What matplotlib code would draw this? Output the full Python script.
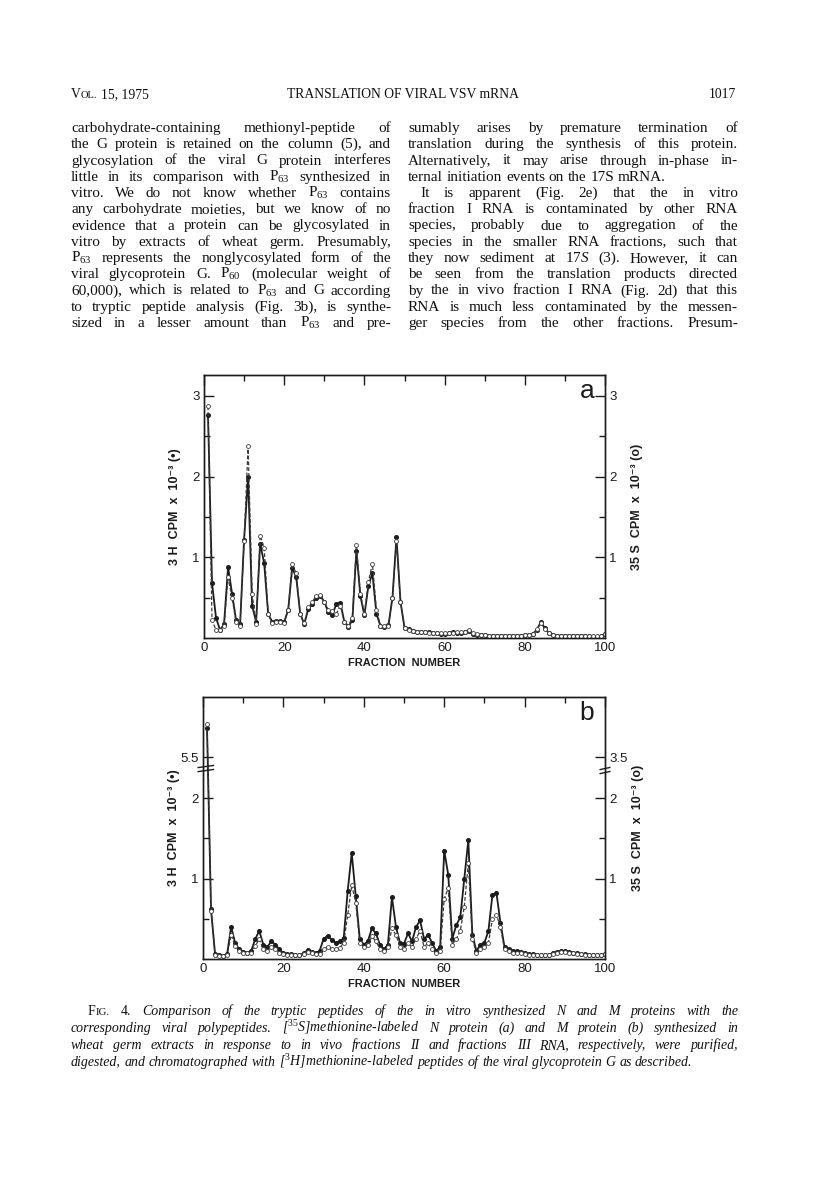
import numpy as np
import matplotlib
matplotlib.use('Agg')
import matplotlib.pyplot as plt

plt.rcParams['mathtext.fontset'] = 'custom'
plt.rcParams['mathtext.rm'] = 'Liberation Serif'
plt.rcParams['mathtext.it'] = 'Liberation Serif:italic'

W, H = 816, 1196
INK = '#1c1c1c'

# ---- data (fraction number 1..100) ----
fraction = np.arange(1, 101)

# panel a: 3H (filled) and 35S (open), CPM x 10^-3
a_h3 = [2.77, 0.68, 0.25, 0.10, 0.17, 0.88, 0.55, 0.22, 0.17, 1.22,
        2.00, 0.40, 0.20, 1.17, 0.93, 0.30, 0.20, 0.21, 0.21, 0.20,
        0.35, 0.87, 0.75, 0.30, 0.17, 0.36, 0.42, 0.50, 0.52, 0.45,
        0.32, 0.29, 0.42, 0.44, 0.20, 0.14, 0.22, 1.08, 0.52, 0.28,
        0.65, 0.80, 0.30, 0.15, 0.14, 0.16, 0.50, 1.25, 0.45, 0.13,
        0.11, 0.09, 0.08, 0.08, 0.07, 0.07, 0.06, 0.06, 0.05, 0.05,
        0.06, 0.07, 0.06, 0.06, 0.07, 0.09, 0.05, 0.04, 0.04, 0.04,
        0.03, 0.03, 0.03, 0.03, 0.03, 0.03, 0.03, 0.03, 0.03, 0.04,
        0.04, 0.05, 0.10, 0.20, 0.12, 0.06, 0.04, 0.03, 0.03, 0.03,
        0.03, 0.03, 0.03, 0.03, 0.03, 0.02, 0.01, 0.01, 0.02, 0.05]
a_s35 = [2.87, 0.22, 0.10, 0.10, 0.15, 0.75, 0.50, 0.20, 0.15, 1.20,
         2.38, 0.55, 0.17, 1.27, 1.12, 0.30, 0.18, 0.20, 0.20, 0.19,
         0.35, 0.92, 0.80, 0.30, 0.18, 0.38, 0.45, 0.52, 0.53, 0.45,
         0.35, 0.33, 0.30, 0.40, 0.20, 0.15, 0.25, 1.15, 0.55, 0.30,
         0.70, 0.92, 0.35, 0.15, 0.15, 0.15, 0.50, 1.20, 0.45, 0.12,
         0.10, 0.09, 0.08, 0.07, 0.07, 0.06, 0.06, 0.06, 0.06, 0.06,
         0.06, 0.06, 0.07, 0.07, 0.08, 0.10, 0.06, 0.05, 0.04, 0.04,
         0.03, 0.03, 0.03, 0.03, 0.03, 0.03, 0.03, 0.03, 0.03, 0.04,
         0.04, 0.05, 0.11, 0.19, 0.11, 0.06, 0.04, 0.03, 0.03, 0.03,
         0.03, 0.03, 0.03, 0.03, 0.03, 0.02, 0.02, 0.02, 0.03, 0.05]

# panel b (axis broken above 2, first fraction near 6)
b_h3 = [5.95, 0.62, 0.06, 0.05, 0.04, 0.06, 0.40, 0.20, 0.12, 0.09,
        0.08, 0.10, 0.25, 0.35, 0.18, 0.15, 0.22, 0.18, 0.12, 0.07,
        0.06, 0.06, 0.05, 0.05, 0.07, 0.11, 0.09, 0.07, 0.10, 0.25,
        0.29, 0.24, 0.20, 0.22, 0.26, 0.85, 1.32, 0.78, 0.25, 0.18,
        0.22, 0.38, 0.32, 0.18, 0.12, 0.18, 0.77, 0.40, 0.20, 0.19,
        0.32, 0.22, 0.40, 0.48, 0.25, 0.30, 0.20, 0.10, 0.15, 1.35,
        1.05, 0.25, 0.42, 0.52, 1.00, 1.48, 0.30, 0.10, 0.18, 0.20,
        0.35, 0.80, 0.82, 0.45, 0.15, 0.12, 0.10, 0.10, 0.09, 0.08,
        0.06, 0.06, 0.05, 0.05, 0.05, 0.05, 0.07, 0.09, 0.10, 0.10,
        0.09, 0.08, 0.07, 0.06, 0.06, 0.05, 0.05, 0.05, 0.05, 0.06]
b_s35 = [6.02, 0.60, 0.05, 0.04, 0.04, 0.05, 0.30, 0.16, 0.10, 0.08,
         0.07, 0.08, 0.16, 0.25, 0.12, 0.10, 0.15, 0.12, 0.08, 0.06,
         0.05, 0.05, 0.05, 0.05, 0.06, 0.09, 0.08, 0.06, 0.06, 0.12,
         0.15, 0.13, 0.12, 0.14, 0.20, 0.55, 0.92, 0.70, 0.20, 0.15,
         0.17, 0.28, 0.22, 0.13, 0.10, 0.15, 0.38, 0.30, 0.15, 0.12,
         0.20, 0.15, 0.25, 0.35, 0.15, 0.20, 0.12, 0.07, 0.10, 0.75,
         0.88, 0.18, 0.25, 0.35, 0.65, 1.20, 0.25, 0.08, 0.12, 0.15,
         0.20, 0.50, 0.55, 0.40, 0.12, 0.10, 0.08, 0.07, 0.07, 0.06,
         0.05, 0.05, 0.05, 0.05, 0.05, 0.05, 0.06, 0.08, 0.09, 0.09,
         0.08, 0.07, 0.06, 0.06, 0.05, 0.05, 0.05, 0.05, 0.05, 0.06]

x_ticks = [0, 20, 40, 60, 80, 100]
a_yticks, a_ylabels_left, a_ylabels_right = [1, 2, 3], ['1', '2', '3'], ['1', '2', '3']
b_yticks, b_ylabels_left, b_ylabels_right = [1, 2, 5.5], ['1', '2', '5.5'], ['1', '2', '3.5']

# ---- page text ----
header = ("15, 1975", "TRANSLATION OF VIRAL VSV mRNA", "1017")
P63 = r"$\mathrm{P}_{63}$"
P60 = r"$\mathrm{P}_{60}$"
left_col = [
    "carbohydrate-containing methionyl-peptide of",
    "the G protein is retained on the column (5), and",
    "glycosylation of the viral G protein interferes",
    f"little in its comparison with {P63} synthesized in",
    f"vitro. We do not know whether {P63} contains",
    "any carbohydrate moieties, but we know of no",
    "evidence that a protein can be glycosylated in",
    "vitro by extracts of wheat germ. Presumably,",
    f"{P63} represents the nonglycosylated form of the",
    f"viral glycoprotein G. {P60} (molecular weight of",
    f"60,000), which is related to {P63} and G according",
    "to tryptic peptide analysis (Fig. 3b), is synthe-",
    f"sized in a lesser amount than {P63} and pre-",
]
right_col = [
    "sumably arises by premature termination of",
    "translation during the synthesis of this protein.",
    "Alternatively, it may arise through in-phase in-",
    "ternal initiation events on the 17S mRNA.",
    "It is apparent (Fig. 2e) that the in vitro",
    "fraction I RNA is contaminated by other RNA",
    "species, probably due to aggregation of the",
    "species in the smaller RNA fractions, such that",
    r"they now sediment at 17$S$ (3). However, it can",
    "be seen from the translation products directed",
    "by the in vivo fraction I RNA (Fig. 2d) that this",
    "RNA is much less contaminated by the messen-",
    "ger species from the other fractions. Presum-",
]
caption = [
    "Comparison of the tryptic peptides of the in vitro synthesized N and M proteins with the",
    r"corresponding viral polypeptides. [$^{35}$S]methionine-labeled N protein (a) and M protein (b) synthesized in",
    "wheat germ extracts in response to in vivo fractions II and fractions III RNA, respectively, were purified,",
    r"digested, and chromatographed with [$^{3}$H]methionine-labeled peptides of the viral glycoprotein G as described.",
]

fig = plt.figure(figsize=(W / 100, H / 100), dpi=100)
renderer = fig.canvas.get_renderer()


def put_words(words, x0, x1, y, size, style='normal', justify=True, min_gap=2.2):
    # words: str, or list of (text, size, style) pieces set without a gap
    def build(scale):
        groups = []
        for w in words:
            pieces = [(w, size, style)] if isinstance(w, str) else w
            ts = [fig.text(0, 1 - y / H, p, fontsize=s * scale, style=st,
                           family='Liberation Serif', va='baseline', ha='left',
                           color='#111111') for p, s, st in pieces]
            ws = [t.get_window_extent(renderer).width for t in ts]
            groups.append((ts, ws))
        return groups

    scale = 1.0
    while True:
        groups = build(scale)
        total = sum(sum(ws) for _, ws in groups)
        n = max(len(groups) - 1, 1)
        gap = (x1 - x0 - total) / n
        if not justify or gap >= min_gap or scale < 0.88:
            break
        for ts, _ in groups:
            for t in ts:
                t.remove()
        scale *= 0.98
    if not justify:
        gap = size * 100 / 72 * 0.25
    x = x0
    for ts, ws in groups:
        for t, w in zip(ts, ws):
            t.set_x(x / W)
            x += w
        x += gap


BODY = 11.0
CAP = 10.0

# running header
put_words([[("V", 9.8, 'normal'), ("OL.", 7.6, 'normal')], header[0]], 71, 150, 98, 9.8,
          justify=False)
fig.text(403 / W, 1 - 98 / H, header[1], fontsize=9.8, family='Liberation Serif',
         va='baseline', ha='center', color='#111111')
fig.text(736 / W, 1 - 98 / H, header[2], fontsize=9.8, family='Liberation Serif',
         va='baseline', ha='right', color='#111111')

# two text columns
for i, line in enumerate(left_col):
    put_words(line.split(' '), 71, 391, 132 + 16.25 * i, BODY)
for i, line in enumerate(right_col):
    x0 = 420 if i == 4 else 408
    put_words(line.split(' '), x0, 738, 132 + 16.25 * i, BODY, justify=(i != 3))

# caption, "FIG. 4." upright in small caps, rest italic
cap_y = [1015, 1032, 1049, 1066]
for i, line in enumerate(caption):
    words = line.split(' ')
    if i == 0:
        words = [[("F", CAP, 'normal'), ("IG.", CAP * 0.78, 'normal')],
                 [("4.", CAP, 'normal')]] + words
        put_words(words, 88, 738, cap_y[i], CAP, style='italic')
    else:
        put_words(words, 71, 738, cap_y[i], CAP, style='italic', justify=(i != 3))


# ---- axis break for panel b ----
def fwd(y):
    y = np.asarray(y, dtype=float)
    return np.where(y <= 2.4, y,
                    np.where(y < 5.5, 2.4 + (y - 2.4) * 0.11 / 3.1,
                             2.51 + (y - 5.5) * 0.8))


def inv(p):
    p = np.asarray(p, dtype=float)
    return np.where(p <= 2.4, p,
                    np.where(p < 2.51, 2.4 + (p - 2.4) * 3.1 / 0.11,
                             5.5 + (p - 2.51) / 0.8))


def make_panel(box, h3, s35, yticks, lab_left, lab_right, letter, broken):
    l, t, r, b = box
    ax = fig.add_axes([l / W, 1 - b / H, (r - l) / W, (b - t) / H])
    ax2 = ax.twinx()
    for a in (ax, ax2):
        if broken:
            a.set_yscale('function', functions=(fwd, inv))
            a.set_ylim(0, inv(3.26))
        else:
            a.set_ylim(0, 3.26)
        for s in a.spines.values():
            s.set_linewidth(1.0)
            s.set_color(INK)
    ax.set_xlim(0, 100)

    ax.plot(fraction, h3, '-', color=INK, lw=1.3, marker='o', ms=2.6,
            mfc=INK, mec=INK, zorder=3)
    ax.plot(fraction, s35, '--', color='#3a3a3a', lw=0.9, dashes=(3, 1.6),
            marker='o', ms=2.8, mfc='white', mec='#3a3a3a', mew=0.6, zorder=4)

    ax.set_xticks(x_ticks)
    ax.set_xticks(np.arange(10, 100, 20), minor=True)
    ax.tick_params(axis='x', which='both', direction='in', bottom=False, top=True,
                   labelbottom=True, labelsize=9.5, pad=3, colors=INK)
    ax.tick_params(axis='x', which='major', length=7, width=1)
    ax.tick_params(axis='x', which='minor', length=4, width=1)
    for tl in ax.get_xticklabels():
        tl.set_family('Liberation Sans')

    minor = [0.5, 1.5] if broken else [0.5, 1.5, 2.5]
    for a, labs in ((ax, lab_left), (ax2, lab_right)):
        a.set_yticks(yticks)
        a.set_yticklabels(labs, family='Liberation Sans')
        a.set_yticks(minor, minor=True)
        a.yaxis.set_minor_formatter(plt.NullFormatter())
        a.tick_params(axis='y', which='both', direction='in', labelsize=9.5,
                      pad=3, colors=INK)
        a.tick_params(axis='y', which='major', length=7, width=1)
        a.tick_params(axis='y', which='minor', length=4, width=1)

    ax.set_xlabel('FRACTION  NUMBER', fontsize=8, fontweight='bold',
                  family='Liberation Sans', color=INK, labelpad=3)
    ax.set_ylabel('3 H  CPM  x  10⁻³ (•)', fontsize=9, fontweight='bold',
                  family=['Liberation Sans', 'DejaVu Sans'], color=INK)
    ax2.set_ylabel('35 S  CPM  x  10⁻³ (o)', fontsize=9, fontweight='bold',
                   family=['Liberation Sans', 'DejaVu Sans'], color=INK,
                   rotation=90)
    ax.yaxis.set_label_coords(-0.058, 0.5)
    ax2.yaxis.set_label_coords(1.066, 0.5)
    ax.text(0.955, 0.912, letter, transform=ax.transAxes, fontsize=19,
            family='Liberation Sans', ha='center', va='baseline', color=INK)

    if broken:
        for yy, xs in ((2.345, (-0.012, 0.026)), (2.395, (-0.012, 0.026)),
                       (2.32, (0.988, 1.012)), (2.37, (0.988, 1.012))):
            ax.plot(xs, [yy / 3.26 - 0.004, yy / 3.26 + 0.004], color=INK, lw=1.0,
                    transform=ax.transAxes, clip_on=False, zorder=6)
    return ax


make_panel((204, 375, 605, 638), a_h3, a_s35, a_yticks, a_ylabels_left,
           a_ylabels_right, 'a', False)
make_panel((203, 697, 605, 959), b_h3, b_s35, b_yticks, b_ylabels_left,
           b_ylabels_right, 'b', True)

fig.savefig('out.png', dpi=100, facecolor='white')
